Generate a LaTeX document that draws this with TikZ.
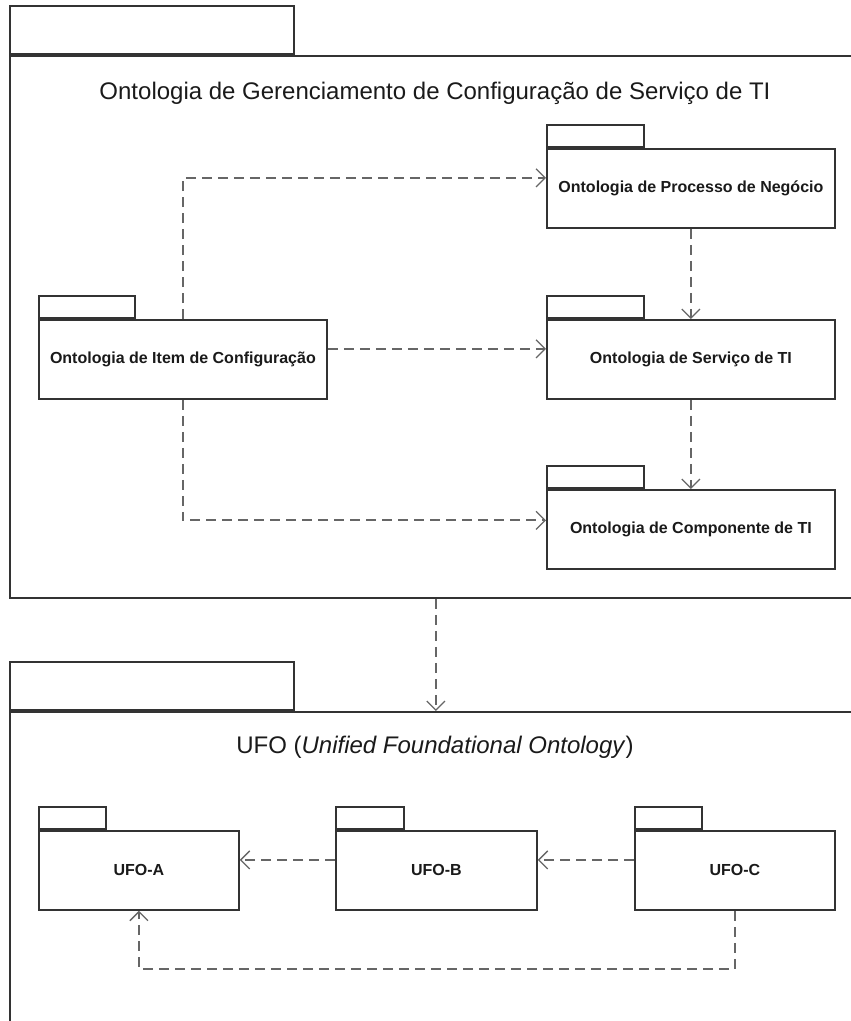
\documentclass[tikz,border=0pt]{standalone}
\usepackage{fontspec}
\setmainfont{Liberation Sans}
\usetikzlibrary{arrows.meta}
\definecolor{edge}{HTML}{333333}
\definecolor{dep}{HTML}{666666}
\definecolor{ink}{HTML}{1A1A1A}
\begin{document}
\begin{tikzpicture}[x=1pt,y=-1pt,
  pkgbox/.style={draw=edge, line width=1.8pt, fill=white, anchor=north west, inner sep=0pt,
    minimum height=79pt, text=ink, font=\bfseries\fontsize{16}{19}\selectfont},
  pkgtab/.style={draw=edge, line width=1.8pt, fill=white, anchor=south west, inner sep=0pt,
    minimum height=22pt},
  outerbox/.style={draw=edge, line width=1.8pt, anchor=north west, inner sep=0pt},
  deparrow/.style={draw=dep, line width=2pt, dash pattern=on 10pt off 6pt,
    -{Straight Barb[length=9pt,width=18pt,line width=1.3pt]}},
  titletext/.style={text=ink, font=\fontsize{24}{28}\selectfont, anchor=base, inner sep=0pt}
]
\useasboundingbox (0,0) rectangle (851,1021);
\clip (0,0) rectangle (851,1021);

% outer package: service configuration ontology
\node[outerbox, minimum width=852pt, minimum height=542pt] (top) at (9,55) {};
\node[pkgtab, minimum width=284pt, minimum height=48pt] (toptab) at (top.north west) {};
\node[titletext] (toptitle) at (435,99) {Ontologia de Gerenciamento de Configuração de Serviço de TI};

% outer package: UFO
\node[outerbox, minimum width=852pt, minimum height=340pt] (ufo) at (9,711) {};
\node[pkgtab, minimum width=284pt, minimum height=48pt] (ufotab) at (ufo.north west) {};
\node[titletext] (ufotitle) at (435,753) {UFO (\textit{Unified Foundational Ontology})};

% inner packages, upper
\node[pkgbox, minimum width=288pt] (item) at (38,319) {Ontologia de Item de Configuração};
\node[pkgtab, minimum width=96pt] (itemtab) at (item.north west) {};
\node[pkgbox, minimum width=288pt] (proc) at (546,148) {Ontologia de Processo de Negócio};
\node[pkgtab, minimum width=97pt] (proctab) at (proc.north west) {};
\node[pkgbox, minimum width=288pt] (serv) at (546,319) {Ontologia de Serviço de TI};
\node[pkgtab, minimum width=97pt] (servtab) at (serv.north west) {};
\node[pkgbox, minimum width=288pt] (comp) at (546,489) {Ontologia de Componente de TI};
\node[pkgtab, minimum width=97pt] (comptab) at (comp.north west) {};

% inner packages, lower
\node[pkgbox, minimum width=200pt] (ua) at (38,830) {UFO-A};
\node[pkgtab, minimum width=67pt] (uatab) at (ua.north west) {};
\node[pkgbox, minimum width=201pt] (ub) at (335,830) {UFO-B};
\node[pkgtab, minimum width=68pt] (ubtab) at (ub.north west) {};
\node[pkgbox, minimum width=200pt] (uc) at (634,830) {UFO-C};
\node[pkgtab, minimum width=67pt] (uctab) at (uc.north west) {};

% dependencies
\draw[deparrow] (item.north) |- ([yshift=10.5pt]proc.west);
\draw[deparrow] ([yshift=10.5pt]item.east) -- ([yshift=10.5pt]serv.west);
\draw[deparrow] (item.south) |- ([yshift=9pt]comp.west);
\draw[deparrow] (proc.south) -- (serv.north);
\draw[deparrow] (serv.south) -- (comp.north);
\draw[deparrow] (top.south) -- (ufo.north);
\draw[deparrow] ([yshift=10.5pt]ub.west) -- ([yshift=10.5pt]ua.east);
\draw[deparrow] ([yshift=10.5pt]uc.west) -- ([yshift=10.5pt]ub.east);
\draw[deparrow] (uc.south) -- ++(0,58) -| (ua.south);
\end{tikzpicture}
\end{document}
